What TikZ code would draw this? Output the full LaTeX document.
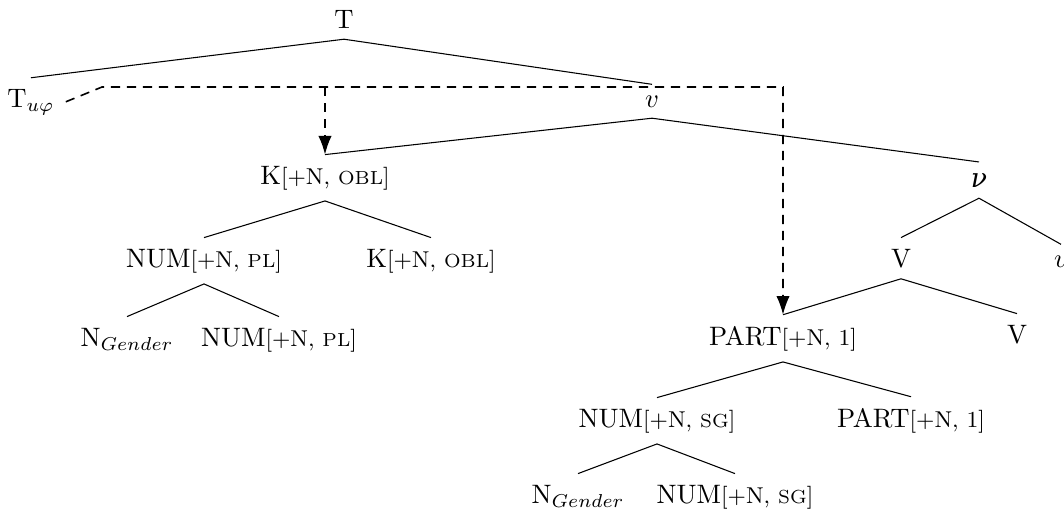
\documentclass[tikz,border=0pt]{standalone}
\usepackage{fontspec}
\newfontfamily\nufont{DejaVu Serif}
\usetikzlibrary{arrows.meta}
\newcommand{\ft}[1]{{\fontsize{8.6}{10}\selectfont[+N, #1]}}
\newcommand{\fsc}[1]{{\fontsize{7.1}{8}\selectfont #1}}
\newcommand{\gn}{N$_{Gender}$}

\tikzset{
  lbl/.style={inner sep=4pt, anchor=base},
  mv/.style={dashed, dash pattern=on 3.5pt off 2.5pt, line width=0.6pt},
  hd/.style={-{Latex[length=7pt,width=5pt]}}
}

\begin{document}
\begin{tikzpicture}[x=0.375pt,y=-0.375pt]
   \useasboundingbox (0,0) rectangle (1064,516);
   % labels
   \node[lbl] (T)    at ( 344,  28) {T};
   \node[lbl] (Tu)   at (  31, 107) {T$_{u\varphi}$};
   \node[lbl] (v)    at ( 652, 107) {$v$};
   \node[lbl] (K)    at ( 325, 184) {K\ft{\fsc{OBL}}};
   \node[lbl] (nu)   at ( 979, 187) {\nufont\itshape ν};
   \node[lbl] (NUMa) at ( 204, 267) {NUM\ft{\fsc{PL}}};
   \node[lbl] (Kb)   at ( 431, 267) {K\ft{\fsc{OBL}}};
   \node[lbl] (V)    at ( 901, 267) {V};
   \node[lbl] (vb)   at (1061, 267) {$v$};
   \node[lbl] (Na)   at ( 127, 346) {\gn};
   \node[lbl] (NUMb) at ( 279, 346) {NUM\ft{\fsc{PL}}};
   \node[lbl] (PART) at ( 783, 345) {PART\ft{1}};
   \node[lbl] (Vb)   at (1017, 343) {V};
   \node[lbl] (NUMc) at ( 657, 427) {NUM\ft{\fsc{SG}}};
   \node[lbl] (PARTb)at ( 911, 427) {PART\ft{1}};
   \node[lbl] (Nb)   at ( 578, 503) {\gn};
   \node[lbl] (NUMd) at ( 735, 503) {NUM\ft{\fsc{SG}}};
   % branches
   \draw (T.south)    -- (Tu.north);
   \draw (T.south)    -- (v.north);
   \draw (v.south)    -- (K.north);
   \draw (v.south)    -- (nu.north);
   \draw (K.south)    -- (NUMa.north);
   \draw (K.south)    -- (Kb.north);
   \draw (NUMa.south) -- (Na.north);
   \draw (NUMa.south) -- (NUMb.north);
   \draw (nu.south)   -- (V.north);
   \draw (nu.south)   -- (vb.north);
   \draw (V.south)    -- (PART.north);
   \draw (V.south)    -- (Vb.north);
   \draw (PART.south) -- (NUMc.north);
   \draw (PART.south) -- (PARTb.north);
   \draw (NUMc.south) -- (Nb.north);
   \draw (NUMc.south) -- (NUMd.north);
   % movement
   \coordinate (bend) at (102,87);
   \draw[mv,hd] (Tu.east) -- (bend) -- (PART.north |- bend) -- (PART.north);
   \draw[mv,hd] (K.north |- bend) -- (K.north);
\end{tikzpicture}
\end{document}
